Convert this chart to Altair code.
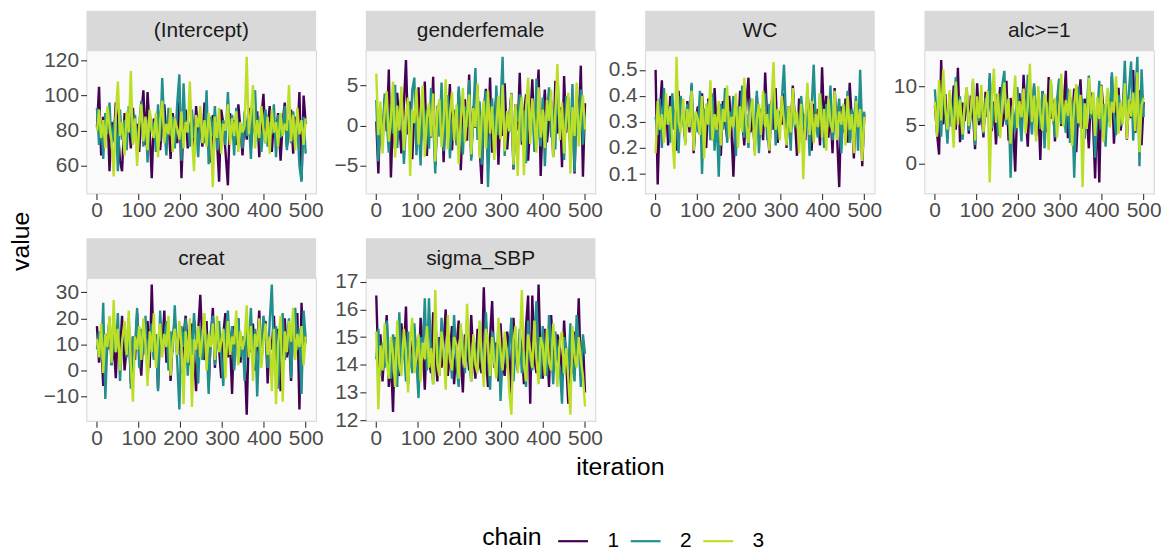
import altair as alt
import pandas as pd

FONT = "Liberation Sans"
PARAMS = ["(Intercept)", "genderfemale", "WC", "alc>=1", "creat", "sigma_SBP"]
CHAINS = ["1", "2", "3"]
COLORS = ["#440154", "#21908C", "#BBDF27"]
X_TICKS = [0, 100, 200, 300, 400, 500]

INTERCEPT_1 = [82,105,66,88,79,92,57,85,74,96,
81,63,57,90,78,86,70,93,76,84,
68,89,103,72,102,80,53,87,75,91,
69,83,95,77,86,64,90,79,73,97,
53,85,92,70,81,88,66,94,78,83,
71,96,76,87,62,89,80,74,51,92,
84,69,49,90,77,86,72,95,81,66,
88,75,93,70,84,79,91,65,87,101,
73,82,94,68,86,77,90,63,85,96,
71,80,92,67,88,76,102,52,100,84]
INTERCEPT_2 = [93,72,85,64,90,78,96,70,83,88,
57,92,75,86,69,94,80,73,89,67,
84,97,71,87,62,91,79,85,68,95,
74,110,82,66,93,77,88,70,96,112,
63,107,79,86,71,92,76,83,65,90,
80,73,103,61,88,77,94,69,85,81,
86,72,102,75,89,66,93,79,84,70,
91,77,87,64,96,103,74,88,68,83,
92,71,85,78,95,65,89,76,82,94,
69,86,73,91,79,84,60,51,88,67]
INTERCEPT_3 = [80,92,76,86,70,94,83,74,54,89,
108,77,85,66,91,79,114,72,87,60,
83,95,74,88,69,92,80,76,90,65,
86,97,73,84,78,93,68,87,81,75,
91,70,85,79,108,77,57,89,82,94,
73,86,71,90,79,48,88,76,93,67,
84,80,95,72,87,77,91,68,85,79,
83,122,78,90,106,70,86,76,94,81,
73,88,67,92,79,85,71,90,77,84,
80,106,74,89,69,93,78,86,72,87]

GENDER_1 = [0.5,-6.0,2.1,-1.8,3.4,-0.7,7.0,-6.5,1.2,-2.9,
4.1,0.3,-3.5,2.6,8.2,-1.1,3.0,-4.2,1.7,-0.4,
4.8,-2.6,0.9,5.5,-3.8,2.2,-1.5,6.1,-5.0,1.4,
-0.8,3.7,-4.6,2.9,0.2,5.2,-3.1,1.8,-2.2,4.4,
-5.6,0.7,3.3,-1.9,6.4,-4.0,2.4,-0.3,5.0,-2.8,
-7.3,1.9,4.6,-2.0,6.0,-3.4,0.8,3.6,-4.9,2.0,
-1.3,5.3,-3.0,1.1,4.0,-5.5,2.7,-0.6,6.6,-2.4,
1.5,3.9,-4.4,0.4,5.8,-1.7,2.5,7.0,-6.3,1.0,
4.5,-2.1,0.6,3.1,-3.9,5.6,-1.0,2.3,-5.2,6.2,
-0.9,3.5,-3.3,1.6,-6.0,4.2,0.1,7.5,-6.4,2.8]
GENDER_2 = [3.2,-4.5,1.8,-2.3,4.0,0.6,-3.4,2.7,-1.0,5.1,
-2.8,1.4,3.6,-4.8,0.2,2.9,-1.6,4.4,6.0,-3.7,
1.0,-5.0,3.3,-0.5,2.1,-2.9,4.7,0.8,-6.0,2.5,
-1.4,5.4,-3.2,1.3,3.8,-4.1,0.4,2.0,-2.5,4.9,
0.9,-3.6,2.4,-0.2,5.7,-4.4,1.6,7.2,-1.8,3.0,
-4.9,1.1,4.3,-7.7,0.3,3.4,-2.7,5.0,-1.2,2.6,
8.6,-3.8,1.7,-0.8,4.1,-5.4,2.2,0.5,3.9,-2.0,
1.9,-4.7,4.6,-1.1,2.8,-3.3,5.9,0.0,-2.6,3.5,
-5.1,1.2,4.8,-1.5,2.3,-3.0,6.3,-0.4,1.5,-4.3,
3.7,0.6,-2.2,5.2,-5.8,2.0,-1.3,4.5,-2.4,1.3]
GENDER_3 = [6.5,-1.2,3.0,-3.5,1.6,4.3,-2.0,0.7,5.5,-4.0,
2.5,-0.6,4.9,-3.1,1.2,3.5,-6.3,2.0,0.3,4.6,
-2.4,1.7,5.0,-3.9,0.9,2.8,-1.4,4.0,-4.5,1.9,
3.3,-2.7,0.5,5.8,-3.0,1.4,4.2,-1.9,2.6,-4.8,
0.8,4.7,-2.1,1.5,3.9,-3.6,2.2,-0.2,5.3,-4.1,
1.0,3.1,-2.9,4.4,-1.0,2.4,-4.3,0.1,3.7,-1.7,
5.1,-3.2,1.8,-0.7,4.0,-4.9,2.7,-6.3,1.3,3.6,
-6.2,2.1,6.0,-2.3,3.4,0.4,-3.4,4.8,-1.5,2.0,
-2.8,3.2,0.6,4.5,-4.0,1.6,7.7,-1.8,2.9,-3.5,
0.9,4.1,-6.0,2.3,-1.3,5.4,-2.6,1.1,3.8,-0.5]

WC_1 = [0.50,0.06,0.33,0.46,0.24,0.37,0.21,0.40,0.27,0.35,
0.19,0.42,0.29,0.33,0.22,0.38,0.26,0.44,0.18,0.31,
0.36,0.25,0.41,0.28,0.20,0.39,0.32,0.23,0.43,0.27,
0.34,0.17,0.38,0.30,0.24,0.40,0.28,0.09,0.36,0.25,
0.42,0.31,0.21,0.37,0.47,0.26,0.33,0.19,0.40,0.29,
0.35,0.23,0.49,0.30,0.18,0.38,0.27,0.43,0.22,0.34,
0.29,0.41,0.20,0.36,0.26,0.44,0.31,0.17,0.39,0.28,
0.33,0.23,0.42,0.30,0.19,0.37,0.27,0.35,0.21,0.51,
0.29,0.40,0.24,0.34,0.18,0.43,0.28,0.05,0.36,0.26,
0.39,0.22,0.45,0.31,0.16,0.37,0.27,0.41,0.13,0.33]
WC_2 = [0.32,0.25,0.39,0.20,0.43,0.29,0.36,0.22,0.41,0.27,
0.34,0.18,0.40,0.30,0.24,0.37,0.28,0.45,0.21,0.33,
0.26,0.42,0.10,0.35,0.29,0.38,0.23,0.41,0.19,0.32,
0.09,0.37,0.27,0.43,0.22,0.34,0.30,0.40,0.17,0.36,
0.28,0.44,0.24,0.33,0.20,0.39,0.31,0.26,0.42,0.18,
0.35,0.29,0.41,0.23,0.37,0.27,0.45,0.21,0.34,0.30,
0.39,0.52,0.25,0.36,0.19,0.42,0.28,0.33,0.22,0.40,
0.31,0.26,0.38,0.17,0.35,0.52,0.29,0.24,0.41,0.33,
0.20,0.37,0.28,0.44,0.23,0.34,0.30,0.39,0.18,0.36,
0.27,0.42,0.22,0.35,0.29,0.40,0.19,0.50,0.26,0.34]
WC_3 = [0.18,0.38,0.27,0.33,0.22,0.41,0.29,0.36,0.24,0.12,
0.55,0.30,0.26,0.39,0.21,0.35,0.28,0.42,0.19,0.34,
0.31,0.25,0.40,0.16,0.37,0.29,0.46,0.23,0.33,0.27,
0.38,0.21,0.35,0.30,0.44,0.24,0.32,0.28,0.41,0.20,
0.36,0.26,0.47,0.29,0.22,0.34,0.39,0.17,0.31,0.37,
0.25,0.42,0.28,0.33,0.19,0.38,0.53,0.27,0.35,0.23,
0.40,0.30,0.21,0.36,0.26,0.43,0.29,0.34,0.18,0.37,
0.08,0.31,0.45,0.25,0.38,0.22,0.33,0.28,0.41,0.24,
0.35,0.19,0.39,0.30,0.26,0.42,0.23,0.34,0.29,0.37,
0.21,0.40,0.27,0.33,0.18,0.38,0.28,0.35,0.15,0.32]

ALC_1 = [7.5,4.0,1.2,13.4,5.1,9.0,3.2,8.3,6.0,10.1,
4.4,12.4,2.8,7.9,5.5,9.6,3.9,8.8,6.7,1.9,
10.4,5.0,7.2,3.4,9.3,6.1,11.0,4.2,8.0,2.5,
7.0,9.9,4.8,6.4,10.7,3.0,8.5,5.7,-1.0,7.6,
9.1,4.6,11.5,6.3,2.2,8.7,5.3,10.0,3.6,7.4,
0.5,9.4,6.8,4.1,11.2,5.8,8.2,2.9,7.1,10.5,
4.9,6.6,12.0,3.3,8.6,5.2,9.7,1.5,7.3,10.9,
4.5,8.4,6.2,2.0,9.2,5.6,-1.9,7.8,-2.4,10.2,
6.9,3.7,8.9,5.4,11.3,2.6,7.7,9.8,4.3,6.5,
10.6,3.1,8.1,5.9,12.1,4.0,7.0,9.5,2.4,8.0]
ALC_2 = [9.6,5.2,8.0,3.5,10.3,6.7,2.6,9.1,4.8,7.4,
11.2,5.9,8.7,3.1,7.0,9.8,4.3,6.2,10.6,2.4,
7.8,5.5,9.3,3.9,8.5,6.0,11.7,4.6,7.1,9.0,
3.6,6.8,10.1,12.0,5.0,8.2,-1.8,7.5,4.2,9.9,
6.4,2.9,8.8,5.7,11.5,7.2,3.8,10.4,6.1,8.6,
4.5,9.4,2.0,7.9,5.3,10.8,6.6,3.4,8.3,11.0,
5.1,7.6,4.0,9.7,2.7,8.1,-1.8,6.9,10.0,4.7,
8.4,3.2,7.3,11.4,5.8,9.2,0.8,6.3,10.7,4.4,
7.7,2.2,9.0,5.4,11.8,6.5,3.7,8.9,4.9,7.2,
13.3,5.6,9.5,13.2,3.0,8.7,13.8,-0.3,12.2,6.0]
ALC_3 = [8.0,3.5,10.8,5.6,12.2,7.1,4.4,9.5,6.3,2.1,
10.6,5.0,8.3,3.8,7.6,9.9,4.9,6.8,11.0,3.0,
8.7,5.9,10.2,4.1,7.3,9.4,-2.4,8.0,12.3,5.3,
9.1,3.3,7.9,10.5,5.7,8.4,2.6,6.9,11.4,4.6,
8.1,6.0,9.7,3.9,7.4,12.9,5.4,8.8,2.9,10.0,
6.5,4.3,9.0,7.7,1.8,10.9,5.5,8.5,3.4,7.0,
11.6,4.8,8.2,6.2,9.6,2.3,7.5,10.3,5.2,8.9,
-3.0,7.8,4.5,11.1,6.4,9.3,3.6,8.6,5.8,10.1,
2.8,7.2,9.8,4.7,8.0,6.6,11.3,3.9,7.9,5.1,
10.4,3.2,8.3,6.1,9.2,4.2,11.8,1.5,7.6,8.5]

CREAT_1 = [17,3,12,-6,14,8,20,2,11,-3,
16,6,21,0,9,18,-5,13,4,22,
7,-2,15,10,19,1,33,5,12,-7,
17,8,23,3,14,-4,11,20,6,16,
-1,13,21,9,2,18,7,-8,15,29,
10,4,19,-6,12,24,1,16,8,-3,
14,22,5,11,-9,17,9,20,3,13,
6,-17,15,7,18,0,10,23,4,14,
19,-5,12,8,21,2,16,-8,11,20,
5,13,-4,17,9,22,-15,26,7,12]
CREAT_2 = [8,15,4,26,-11,12,19,2,14,7,
22,-4,11,17,5,20,-7,13,9,24,
1,16,6,21,-3,10,18,4,14,-8,
23,8,12,19,0,15,7,25,3,-15,
17,9,20,-2,13,6,22,11,-5,16,
4,18,10,-9,15,21,2,12,19,6,
-6,14,23,8,17,0,11,20,5,13,
-4,18,9,24,3,16,-10,12,7,21,
15,1,19,33,6,17,-7,13,22,4,
11,20,-3,15,24,8,16,-9,23,12]
CREAT_3 = [12,5,18,-1,14,9,21,3,27,7,
16,0,11,19,6,23,2,-12,13,8,
17,4,20,10,-6,15,7,22,1,12,
18,5,14,9,21,-2,11,16,6,19,
10,-13,15,3,20,-14,12,8,17,5,
13,22,0,14,9,18,4,21,7,11,
16,-3,19,6,13,10,23,2,15,8,
12,25,5,17,-4,14,9,20,1,11,
18,6,13,-8,16,-13,10,21,-12,15,
7,19,11,24,4,14,9,17,2,13]

SIGMA_1 = [16.5,13.9,15.1,13.4,14.7,15.8,13.2,14.3,12.3,15.0,
14.0,13.6,15.5,14.4,16.1,13.3,14.9,13.8,15.3,14.2,
13.5,15.7,14.6,13.1,15.2,14.1,13.7,15.9,14.5,13.4,
15.0,13.9,14.8,16.0,13.6,14.4,15.4,13.3,14.7,15.6,
14.2,13.0,15.1,14.6,13.8,15.8,14.3,13.5,15.3,14.0,
13.7,16.8,14.4,13.2,15.0,16.3,13.9,14.8,13.4,15.5,
14.1,13.6,15.2,14.5,12.9,15.7,14.3,13.8,15.0,14.6,
13.3,15.4,16.5,12.6,16.5,14.2,13.7,16.9,14.0,13.5,
15.3,14.7,13.2,15.8,14.4,13.9,15.1,14.6,13.4,15.6,
14.1,12.6,14.8,13.7,15.2,14.3,16.4,13.6,14.9,13.0]
SIGMA_2 = [14.2,15.3,13.6,14.8,13.9,15.6,14.3,13.5,15.1,14.6,
13.2,15.9,14.0,14.7,13.4,15.2,14.5,13.7,15.5,14.1,
12.8,15.0,14.4,16.4,13.8,16.4,14.2,13.3,15.4,14.9,
13.6,15.7,14.3,13.9,15.1,14.6,13.5,15.8,14.0,13.2,
15.3,14.7,13.7,15.6,14.2,13.4,15.0,14.5,13.8,15.4,
14.1,13.5,15.9,14.4,13.1,15.2,14.8,13.6,15.5,12.7,
14.3,15.0,13.9,14.6,15.7,13.4,14.9,14.0,15.3,13.7,
14.5,13.2,15.6,14.2,13.8,15.1,16.3,14.4,13.5,15.4,
14.0,13.6,15.8,14.7,13.3,15.2,14.3,13.9,12.6,15.0,
14.6,13.7,15.5,14.1,13.4,15.8,14.8,13.2,15.1,14.4]
SIGMA_3 = [15.2,12.4,14.7,13.8,15.5,14.1,13.5,15.0,14.4,13.2,
15.6,14.0,13.6,15.3,14.5,13.0,14.9,15.7,13.7,14.3,
15.1,13.4,14.8,14.2,15.4,13.9,14.6,13.3,16.7,14.0,
13.6,15.2,14.5,13.1,15.8,14.2,13.8,15.0,14.7,13.5,
15.5,14.3,13.9,16.2,14.6,13.4,15.1,14.0,13.7,15.6,
14.4,13.2,15.3,14.8,13.6,15.0,14.1,13.5,15.7,14.5,
13.8,15.2,14.3,13.0,12.2,14.9,15.4,13.7,14.6,16.7,
14.0,13.4,15.1,14.5,13.9,15.6,14.2,13.3,15.0,14.7,
13.6,15.3,14.1,13.8,15.5,14.4,13.2,14.9,15.2,13.7,
14.6,13.5,12.2,15.4,14.3,13.9,15.0,14.2,13.6,12.5]

SERIES = {
    "(Intercept)": [INTERCEPT_1, INTERCEPT_2, INTERCEPT_3],
    "genderfemale": [GENDER_1, GENDER_2, GENDER_3],
    "WC": [WC_1, WC_2, WC_3],
    "alc>=1": [ALC_1, ALC_2, ALC_3],
    "creat": [CREAT_1, CREAT_2, CREAT_3],
    "sigma_SBP": [SIGMA_1, SIGMA_2, SIGMA_3],
}

rows = []
for p in PARAMS:
    for c, vals in zip(CHAINS, SERIES[p]):
        n = len(vals)
        for i, v in enumerate(vals):
            rows.append({"param": p, "chain": c,
                         "iteration": 1 + round(i * 499 / (n - 1)), "value": v})
df = pd.DataFrame(rows)

W, H = 231, 144
STRIP = 40
TICK_FS = 21
TITLE_FS = 25

legend = alt.Legend(orient="none", legendX=398, legendY=477,
                    direction="horizontal", titleOrient="left",
                    titleBaseline="middle",
                    symbolType="stroke", symbolSize=900,
                    symbolStrokeWidth=2.2, labelFontSize=TICK_FS,
                    titleFontSize=TITLE_FS, titleFontWeight="normal",
                    titleColor="black", labelColor="black",
                    labelFont=FONT, titleFont=FONT,
                    titlePadding=15, labelOffset=18, columnPadding=7)


def panel(p, extra=None):
    d = df[df["param"] == p]
    lines = alt.Chart(d).mark_line(strokeWidth=2.4, clip=True).encode(
        x=alt.X("iteration:Q",
                scale=alt.Scale(domain=[-23.95, 524.95], nice=False, zero=False),
                axis=alt.Axis(values=X_TICKS, title=None, labelFlush=False,
                              labelOverlap=False, labelPadding=0)),
        y=alt.Y("value:Q",
                scale=alt.Scale(zero=False, nice=False, padding=6.5),
                axis=alt.Axis(title=None, tickCount=4, labelOverlap=False,
                              labelFlush=False, labelPadding=2)),
        color=alt.Color("chain:N", scale=alt.Scale(domain=CHAINS, range=COLORS),
                        title="chain", legend=legend),
        order=alt.Order("iteration:Q"),
    )
    lab = alt.Chart(pd.DataFrame({"param": [p]}))
    strip_bg = lab.mark_rect(fill="#D9D9D9").encode(
        x=alt.value(0), x2=alt.value(W), y=alt.value(-STRIP), y2=alt.value(0))
    strip_txt = lab.mark_text(fontSize=TICK_FS, font=FONT, color="#1A1A1A",
                              baseline="middle", align="center").encode(
        text="param:N", x=alt.value(W / 2), y=alt.value(-STRIP / 2 + 1))
    layers = [strip_bg, strip_txt, lines]
    if extra is not None:
        layers.append(extra)
    return alt.layer(*layers).properties(width=W, height=H)


value_lbl = alt.Chart(pd.DataFrame({"t": ["value"]})).mark_text(
    fontSize=TITLE_FS, font=FONT, color="black", angle=270,
    baseline="middle", align="center").encode(
    text="t:N", x=alt.value(-66), y=alt.value(192))
iter_lbl = alt.Chart(pd.DataFrame({"t": ["iteration"]})).mark_text(
    fontSize=TITLE_FS, font=FONT, color="black",
    baseline="middle", align="center").encode(
    text="t:N", x=alt.value(256), y=alt.value(190))

panels = [panel(PARAMS[0], value_lbl), panel(PARAMS[1]), panel(PARAMS[2]),
          panel(PARAMS[3]), panel(PARAMS[4]), panel(PARAMS[5], iter_lbl)]

chart = alt.concat(*panels, columns=4, spacing={"row": 85, "column": 50},
                   bounds="flush").resolve_scale(
    x="independent", y="independent", color="shared"
).properties(
    padding={"left": 0, "top": 0, "right": 5, "bottom": 5},
    background="white",
).configure_view(
    fill="#FAFAFA", stroke="#DCDCDC", strokeWidth=1.2
).configure_axis(
    grid=False, domain=False, labelFont=FONT, labelFontSize=TICK_FS,
    labelColor="#4D4D4D", tickColor="#333333", tickSize=6, tickWidth=1.1,
)

chart.save("out.html", embed_options={"renderer": "svg", "actions": False})
